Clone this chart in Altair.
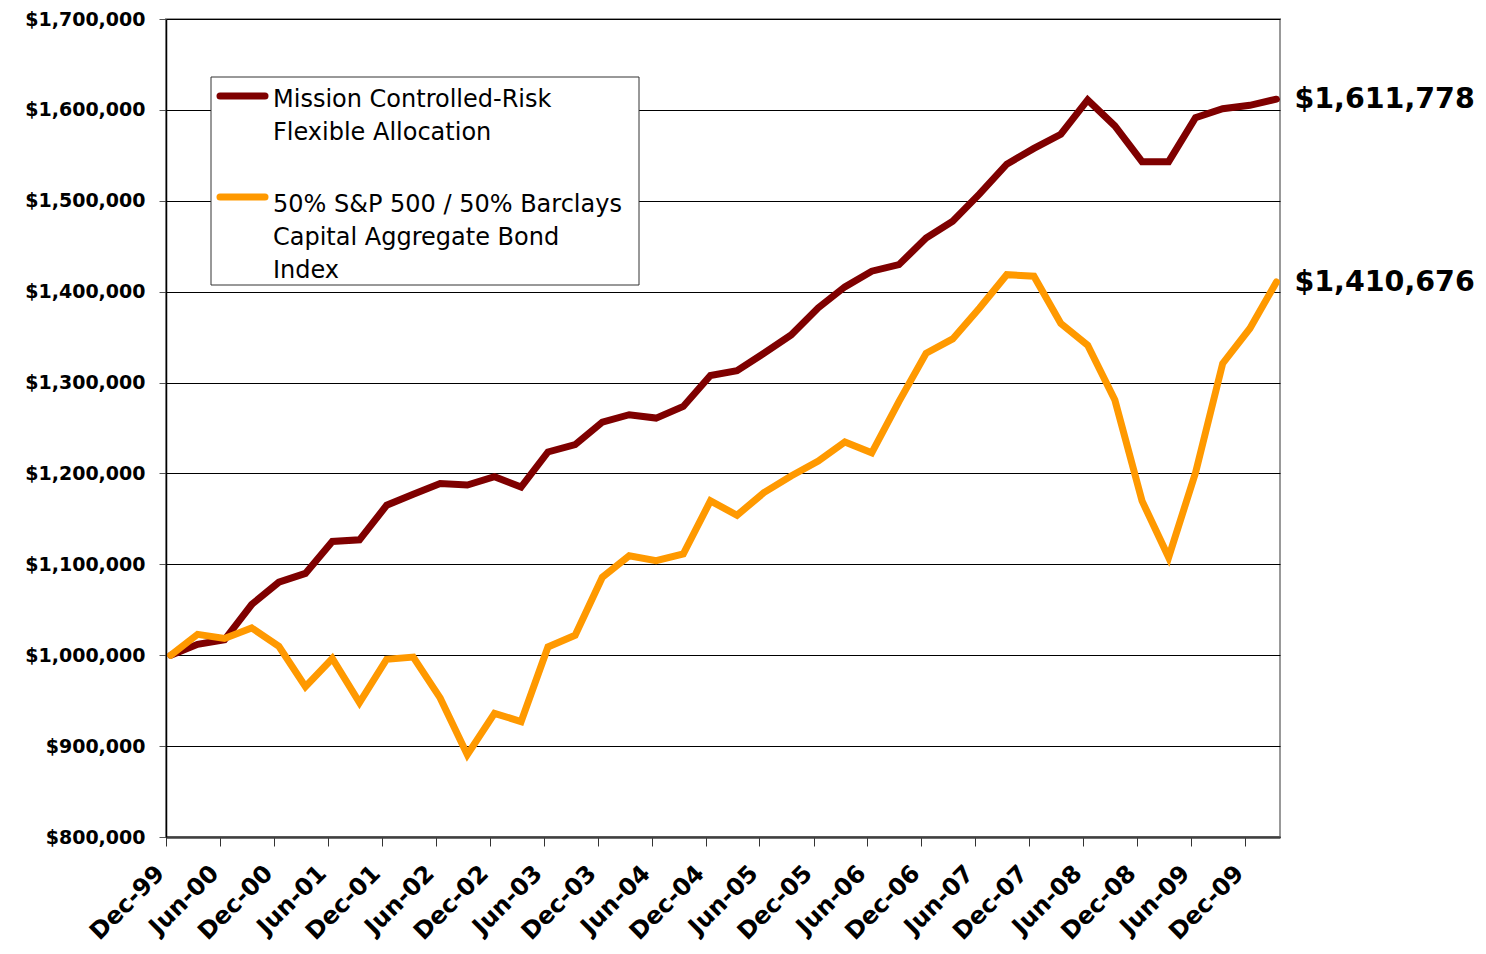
import altair as alt
import pandas as pd

# ---------------- data ----------------
QUARTER_ENDS = ["03-31", "06-30", "09-30", "12-31"]
DATES = ["1999-12-31"] + [f"{y}-{q}" for y in range(2000, 2011) for q in QUARTER_ENDS][:41]

SERIES = [
    "Mission Controlled-Risk Flexible Allocation",
    "50% S&P 500 / 50% Barclays Capital Aggregate Bond Index",
]
COLORS = ["#7F0000", "#FF9900"]

MISSION = [
    1000000, 1012000, 1017000, 1055800, 1080300, 1090000, 1125200, 1127000,
    1165000, 1177000, 1189000, 1187300, 1196400, 1185000, 1223600, 1231700,
    1256500, 1264600, 1260900, 1273700, 1307800, 1313000, 1332200, 1352300,
    1382300, 1405300, 1422500, 1429700, 1459000, 1477500, 1507500, 1540300,
    1557600, 1573200, 1611000, 1582400, 1543000, 1543000, 1591500, 1601300,
    1605000, 1611778,
]
BENCH = [
    1000000, 1023000, 1018500, 1030000, 1009800, 965300, 996400, 947800,
    995600, 998000, 953000, 890500, 936100, 927000, 1009100, 1021900,
    1085800, 1109500, 1104000, 1111400, 1169800, 1154000, 1178900, 1197200,
    1213600, 1234700, 1222700, 1279000, 1332200, 1348000, 1382000, 1418700,
    1417000, 1365000, 1341000, 1280800, 1169800, 1107700, 1200700, 1321000,
    1359500, 1410676,
]

Y_TICKS = list(range(800000, 1700001, 100000))
TICK_MONTHS = [(1999, 12)] + [(y, m) for y in range(2000, 2010) for m in (6, 12)]

FONT = "DejaVu Sans"

df = pd.DataFrame({
    "date": DATES * 2,
    "value": MISSION + BENCH,
    "series": [SERIES[0]] * len(DATES) + [SERIES[1]] * len(DATES),
})
ends = pd.DataFrame({"date": [DATES[-1]] * 2, "value": [MISSION[-1], BENCH[-1]]})
one = pd.DataFrame({"k": [0]})

X = alt.X(
    "date:T",
    title=None,
    scale=alt.Scale(
        type="utc",
        domain=[alt.DateTime(year=1999, month=12, date=15, utc=True),
                alt.DateTime(year=2010, month=4, date=12, utc=True)],
    ),
    axis=alt.Axis(
        values=[alt.DateTime(year=y, month=m, date=15, utc=True) for y, m in TICK_MONTHS],
        labelExpr="utcFormat(datum.value, '%b-%y')",
        labelAngle=-45, labelAlign="right", labelBaseline="top",
        labelFont=FONT, labelColor="#000",
        labelFontSize=24, labelFontWeight="bold", labelPadding=15, labelOffset=-14,
        tickSize=9, tickColor="#333", domainColor="#404040", domainWidth=2.5,
        grid=False, labelFlush=False, labelOverlap=False, labelLimit=400,
    ),
)
Y = alt.Y(
    "value:Q",
    title=None,
    scale=alt.Scale(domain=[800000, 1700000], nice=False, zero=False),
    axis=alt.Axis(
        values=Y_TICKS, format="$,.0f",
        labelFont=FONT, labelColor="#000",
        labelFontSize=19, labelFontWeight="bold", labelPadding=14,
        tickSize=7, tickColor="#555", domainColor="#000", domainWidth=1.5,
        grid=True, gridColor="#000", gridWidth=1, labelFlush=False, labelLimit=400,
    ),
)

def line(i):
    return alt.Chart(df).transform_filter(
        alt.datum.series == SERIES[i]
    ).mark_line(strokeWidth=7, strokeCap="round", strokeJoin="miter", color=COLORS[i]).encode(x=X, y=Y)

end_labels = alt.Chart(ends).mark_text(
    align="left", baseline="middle", dx=18, fontSize=28.5, fontWeight="bold", font=FONT, color="#000"
).encode(x=X, y=Y, text=alt.Text("value:Q", format="$,.0f"))

legend_box = alt.Chart(one).mark_rect(fill="white", stroke="#333", strokeWidth=1).encode(
    x=alt.value(45), x2=alt.value(473), y=alt.value(58), y2=alt.value(266)
)
leg_line1 = alt.Chart(one).mark_rule(strokeWidth=7, strokeCap="round", color=COLORS[0]).encode(
    x=alt.value(54), x2=alt.value(99), y=alt.value(77)
)
leg_line2 = alt.Chart(one).mark_rule(strokeWidth=7, strokeCap="round", color=COLORS[1]).encode(
    x=alt.value(54), x2=alt.value(99), y=alt.value(178)
)
leg_text1 = alt.Chart(one).mark_text(
    align="left", baseline="alphabetic", fontSize=24, font=FONT, lineBreak="\n", lineHeight=33, color="#000"
).encode(x=alt.value(107), y=alt.value(88), text=alt.value("Mission Controlled-Risk\nFlexible Allocation"))
leg_text2 = alt.Chart(one).mark_text(
    align="left", baseline="alphabetic", fontSize=24, font=FONT, lineBreak="\n", lineHeight=33, color="#000"
).encode(x=alt.value(107), y=alt.value(193),
         text=alt.value("50% S&P 500 / 50% Barclays\nCapital Aggregate Bond\nIndex"))

chart = alt.layer(
    line(0), line(1), end_labels, legend_box, leg_line1, leg_line2, leg_text1, leg_text2
).properties(
    width=1114, height=818,
    padding={"left": 158, "top": 11, "right": 198, "bottom": 112},
    autosize=alt.AutoSizeParams(type="none"),
).configure_view(
    stroke="#999999", strokeWidth=2
)

chart.save("out.html", embed_options={"renderer": "svg", "actions": False})
